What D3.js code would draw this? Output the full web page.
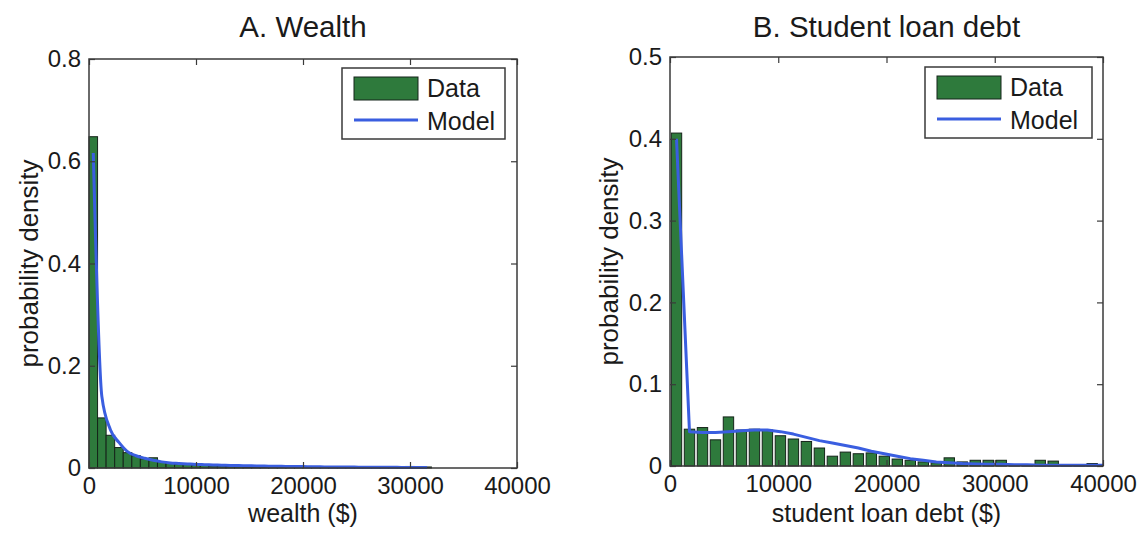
<!DOCTYPE html>
<html>
<head>
<meta charset="utf-8">
<script src="https://cdn.jsdelivr.net/npm/d3@7/dist/d3.min.js"></script>
<style>
  html, body { margin: 0; padding: 0; background: #fff; }
  svg { display: block; }
  text { font-family: "Liberation Sans", Arial, Helvetica, sans-serif; fill: #1a1a1a; }
</style>
</head>
<body>
<svg id="chart" width="1141" height="533"></svg>
<script>
// ---------------- DATA ----------------
const xTicks = [0, 10000, 20000, 30000, 40000];

// Panel A: Wealth (histogram bins of $800 starting at 0)
const wealthTitle = "A. Wealth";
const wealthXLabel = "wealth ($)";
const wealthBinWidth = 800;
const wealthDensity = [0.648, 0.098, 0.064, 0.040, 0.030, 0.024, 0.018, 0.020, 0.012, 0.010,
  0.008, 0.007, 0.006, 0.005, 0.004, 0.004, 0.003, 0.003, 0.002, 0.002,
  0.002, 0.002, 0.0015, 0.0015, 0.0015, 0.003, 0.0012, 0.0012, 0.001, 0.001,
  0.001, 0.001, 0.001, 0.001, 0.001, 0.001, 0.001, 0.003, 0.001, 0.002];
const wealthModelX = [400, 1200, 2000, 2800, 3600, 4400, 5200, 6000, 6800, 7600,
  8400, 9200, 10000, 10800, 11600, 12400, 13200, 14000, 14800, 15600,
  16400, 17200, 18000, 18800, 19600, 20400, 21200, 22000, 22800, 23600,
  24400, 25200, 26000, 26800, 27600, 28400, 29200, 30000, 30800, 31600];
const wealthModel = [0.616, 0.140, 0.075, 0.050, 0.032, 0.024, 0.019, 0.015, 0.012, 0.010,
  0.009, 0.008, 0.007, 0.0065, 0.006, 0.0055, 0.005, 0.0047, 0.0044, 0.0041,
  0.0038, 0.0035, 0.0032, 0.003, 0.0028, 0.0026, 0.0024, 0.0022, 0.002, 0.0019,
  0.0018, 0.0017, 0.0016, 0.0015, 0.0014, 0.0013, 0.0012, 0.0011, 0.001, 0.001];
const wealthYTicks = [0, 0.2, 0.4, 0.6, 0.8];

// Panel B: Student loan debt (histogram bins of $1200 starting at 0)
const debtTitle = "B. Student loan debt";
const debtXLabel = "student loan debt ($)";
const debtBinWidth = 1200;
const debtDensity = [0.407, 0.045, 0.047, 0.032, 0.060, 0.044, 0.045, 0.044, 0.037, 0.033,
  0.030, 0.022, 0.012, 0.017, 0.015, 0.016, 0.012, 0.0085, 0.007, 0.005,
  0.004, 0.010, 0.005, 0.007, 0.007, 0.007, 0.0005, 0.0005, 0.007, 0.006,
  0.0005, 0.0005, 0.003];
const debtModelX = [600, 1800, 3000, 4200, 5400, 6600, 7800, 9000, 10200, 11400,
  12600, 13800, 15000, 16200, 17400, 18600, 19800, 21000, 22200, 23400,
  24600, 25800, 27000, 28200, 29400, 30600, 31800, 33000, 34200, 35400,
  36600, 37800, 39000, 40000];
const debtModel = [0.400, 0.042, 0.041, 0.041, 0.042, 0.043, 0.044, 0.044, 0.042, 0.039,
  0.035, 0.031, 0.028, 0.025, 0.022, 0.018, 0.015, 0.012, 0.009, 0.007,
  0.005, 0.004, 0.003, 0.0025, 0.002, 0.002, 0.0015, 0.0015, 0.001, 0.001,
  0.001, 0.001, 0.001, 0.001];
const debtYTicks = [0, 0.1, 0.2, 0.3, 0.4, 0.5];

const legendLabels = ["Data", "Model"];
const yLabel = "probability density";

// ---------------- STYLE ----------------
const barFill = "#2e7a3c";
const barStroke = "#15241a";
const lineColor = "#3a5ee0";
const axisColor = "#3a3a3a";

const svg = d3.select("#chart");

function drawPanel(p) {
  const x = d3.scaleLinear().domain([0, 40000]).range([p.left, p.right]);
  const y = d3.scaleLinear().domain([0, p.yMax]).range([p.bottom, p.top]);
  const g = svg.append("g");

  // bars
  const bw = p.binWidth;
  g.selectAll("rect.bar").data(p.density).join("rect")
    .attr("class", "bar")
    .attr("x", (d, i) => x(i * bw + bw * (1 - p.barFrac) / 2))
    .attr("width", x(bw * p.barFrac) - x(0))
    .attr("y", d => y(d))
    .attr("height", d => y(0) - y(d))
    .attr("fill", barFill)
    .attr("stroke", barStroke)
    .attr("stroke-width", 1);

  // model line
  const line = d3.line().x(d => x(d[0])).y(d => y(d[1])).curve(p.curve);
  g.append("path")
    .datum(p.modelX.map((v, i) => [v, p.model[i]]))
    .attr("d", line)
    .attr("fill", "none")
    .attr("stroke", lineColor)
    .attr("stroke-width", 3)
    .attr("stroke-linejoin", "round");

  // axes box with inward ticks (MATLAB style)
  const tl = 6;
  const bottomAxis = d3.axisBottom(x).tickValues(xTicks).tickSize(-tl).tickFormat(d3.format("d")).tickPadding(9);
  const topAxis = d3.axisTop(x).tickValues(xTicks).tickSize(-tl).tickFormat("");
  const leftAxis = d3.axisLeft(y).tickValues(p.yTicks).tickSize(-tl).tickFormat(d => d === 0 ? "0" : d3.format(".1f")(d)).tickPadding(8);
  const rightAxis = d3.axisRight(y).tickValues(p.yTicks).tickSize(-tl).tickFormat("");

  const styleAxis = sel => {
    sel.selectAll("path.domain").attr("stroke", axisColor).attr("stroke-width", 1.5);
    sel.selectAll(".tick line").attr("stroke", axisColor).attr("stroke-width", 1.2);
    sel.selectAll(".tick text").attr("font-size", 24).attr("fill", "#1a1a1a")
      .attr("font-family", '"Liberation Sans", Arial, sans-serif');
  };
  g.append("g").attr("transform", `translate(0,${p.bottom})`).call(bottomAxis).call(styleAxis);
  g.append("g").attr("transform", `translate(0,${p.top})`).call(topAxis).call(styleAxis);
  g.append("g").attr("transform", `translate(${p.left},0)`).call(leftAxis).call(styleAxis);
  g.append("g").attr("transform", `translate(${p.right},0)`).call(rightAxis).call(styleAxis);
  g.selectAll("path.domain").attr("d", null);
  g.append("rect").attr("x", p.left).attr("y", p.top)
    .attr("width", p.right - p.left).attr("height", p.bottom - p.top)
    .attr("fill", "none").attr("stroke", axisColor).attr("stroke-width", 1.5);

  // title
  g.append("text").attr("x", (p.left + p.right) / 2).attr("y", 37)
    .attr("text-anchor", "middle").attr("font-size", 29.5).text(p.title);
  // x label
  g.append("text").attr("x", (p.left + p.right) / 2).attr("y", 522)
    .attr("text-anchor", "middle").attr("font-size", 25).text(p.xLabel);
  // y label
  g.append("text").attr("transform", `translate(${p.yLabelX},${(p.top + p.bottom) / 2}) rotate(-90)`)
    .attr("text-anchor", "middle").attr("font-size", 26).text(yLabel);

  // legend
  const L = p.legend;
  const lg = g.append("g");
  lg.append("rect").attr("x", L.x).attr("y", L.y).attr("width", L.w).attr("height", L.h)
    .attr("fill", "#fff").attr("stroke", axisColor).attr("stroke-width", 1.5);
  lg.append("rect").attr("x", L.x + 12).attr("y", L.y + 9).attr("width", 64).attr("height", 23)
    .attr("fill", barFill).attr("stroke", barStroke).attr("stroke-width", 1);
  lg.append("line").attr("x1", L.x + 12).attr("x2", L.x + 76).attr("y1", L.y + 52).attr("y2", L.y + 52)
    .attr("stroke", lineColor).attr("stroke-width", 3);
  lg.append("text").attr("x", L.x + 85).attr("y", L.y + 29).attr("font-size", 25).text(legendLabels[0]);
  lg.append("text").attr("x", L.x + 85).attr("y", L.y + 62).attr("font-size", 25).text(legendLabels[1]);
}

drawPanel({
  left: 89, right: 517, top: 59, bottom: 468, yMax: 0.8,
  binWidth: wealthBinWidth, barFrac: 1, density: wealthDensity,
  modelX: wealthModelX, model: wealthModel, yTicks: wealthYTicks, curve: d3.curveMonotoneX,
  title: wealthTitle, xLabel: wealthXLabel, yLabelX: 38,
  legend: { x: 342, y: 68, w: 163, h: 71 }
});
drawPanel({
  left: 670, right: 1103, top: 57, bottom: 466, yMax: 0.5,
  binWidth: debtBinWidth, barFrac: 0.8, density: debtDensity,
  modelX: debtModelX, model: debtModel, yTicks: debtYTicks, curve: d3.curveLinear,
  title: debtTitle, xLabel: debtXLabel, yLabelX: 618,
  legend: { x: 925, y: 67, w: 167, h: 71 }
});
</script>
</body>
</html>
